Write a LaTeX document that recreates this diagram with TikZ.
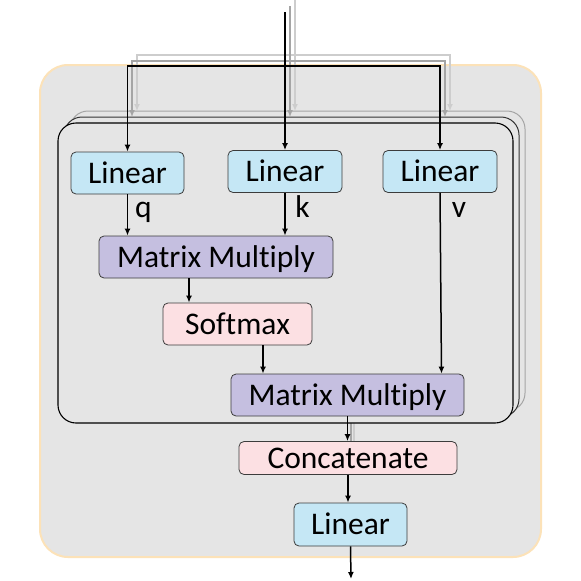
\documentclass[tikz,border=0pt]{standalone}
\usepackage{fontspec}
\setmainfont{Carlito}[Ligatures=CommonOff]
\usetikzlibrary{arrows.meta}
\definecolor{bgGray}{RGB}{229,229,229}
\definecolor{peach}{RGB}{252,226,184}
\definecolor{lblue}{RGB}{197,231,245}
\definecolor{lav}{RGB}{197,191,224}
\definecolor{lpink}{RGB}{252,224,227}
\definecolor{gA}{RGB}{165,165,165}
\definecolor{gB}{RGB}{205,205,205}
\definecolor{edge}{RGB}{60,60,60}
\tikzset{
  box/.style={draw=edge, line width=0.8pt, rounded corners=5pt, minimum height=42pt,
    text height=20pt, text depth=0pt, inner sep=0pt, font=\fontsize{31.5}{36}\selectfont},
  arr/.style={-{Latex[length=7pt,width=6pt]}, line width=1.5pt, black},
  garrA/.style={-{Latex[length=7pt,width=6pt]}, line width=1.5pt, gA},
  garrB/.style={-{Latex[length=7pt,width=6pt]}, line width=1.5pt, gB},
  lbl/.style={anchor=base, inner sep=0pt, font=\fontsize{31.5}{36}\selectfont},
  stackbox/.style={rounded corners=18pt, fill=bgGray, minimum width=455pt, minimum height=300pt, inner sep=0pt}
}
\begin{document}
\begin{tikzpicture}[x=1pt,y=-1pt]
\useasboundingbox (0,0) rectangle (581,581);
\fill[white] (0,0) rectangle (581,581);
% outer block
\node[draw=peach, line width=2pt, fill=bgGray, rounded corners=28pt, minimum width=501pt, minimum height=492pt, inner sep=0pt] (outer) at (290.5,311) {};
% stacked heads
\node[stackbox, draw=gA, line width=1pt] (box3) at (297.5,261) {};
\node[stackbox, draw=black!80, line width=1pt] (box2) at (291.5,267) {};
% gray output shadows
\coordinate (o3) at (354,411);
\coordinate (o2) at (351,417);
\coordinate (c3) at (354,442);
\coordinate (c2) at (351,442);
\draw[line width=1.5pt, gB] (o3) -- (c3);
\draw[line width=1.5pt, gA] (o2) -- (c2);
% front head
\node[stackbox, draw=black, line width=1.1pt] (box1) at (285.5,273) {};
% gray input wires
\coordinate (in2) at (295,0);
\coordinate (j2) at (295,55);
\coordinate (t2l) at (137,111);
\coordinate (t2m) at (295,111);
\coordinate (t2r) at (450,111);
\draw[garrB] (in2) -- (t2m);
\draw[garrB] (j2) -| (t2l);
\draw[garrB] (j2) -| (t2r);
\coordinate (in1) at (290,6);
\coordinate (j1) at (290,61);
\coordinate (t1l) at (132,117);
\coordinate (t1m) at (290,117);
\coordinate (t1r) at (445,117);
\draw[garrA] (in1) -- (t1m);
\draw[garrA] (j1) -| (t1l);
\draw[garrA] (j1) -| (t1r);
% nodes
\node[box, fill=lblue, minimum width=113pt] (lin1) at (127.5,173) {Linear};
\node[box, fill=lblue, minimum width=114pt] (lin2) at (285,171.5) {Linear};
\node[box, fill=lblue, minimum width=114pt] (lin3) at (440,171.5) {Linear};
\node[box, fill=lav, minimum width=234pt] (mm1) at (216,257) {Matrix Multiply};
\node[box, fill=lpink, minimum width=149pt] (soft) at (237.5,324) {Softmax};
\node[box, fill=lav, minimum width=233pt] (mm2) at (347.5,395) {Matrix Multiply};
\node[box, fill=lpink, minimum width=218pt, minimum height=33pt] (cat) at (348,458) {Concatenate};
\node[box, fill=lblue, minimum width=113pt, minimum height=43pt] (lin4) at (350.5,524.5) {Linear};
% black input wires
\coordinate (in0) at (285,12);
\coordinate (j0) at (285,66);
\draw[arr] (in0) -- (lin2.north);
\draw[arr] (j0) -| (lin1.north);
\draw[arr] (j0) -| (lin3.north);
% inner connectors
\draw[arr] (lin1.south) -- (lin1.south |- mm1.north);
\draw[arr] (lin2.south) -- (lin2.south |- mm1.north);
\draw[arr] ([xshift=-27pt]mm1.south) -- ([xshift=-27pt]mm1.south |- soft.north);
\draw[arr] ([xshift=25.5pt]soft.south) -- ([xshift=25.5pt]soft.south |- mm2.north);
\draw[arr] (lin3.south) -- ([xshift=1.5pt]lin3.south |- mm2.north);
\draw[arr] (mm2.south) -- (mm2.south |- cat.north);
\draw[arr] (cat.south) -- (cat.south |- lin4.north);
\coordinate (out) at (351,579);
\draw[arr] (lin4.south) -- (out);
% labels
\node[lbl] (lq) at (143.5,217) {q};
\node[lbl] (lk) at (302.5,217) {k};
\node[lbl] (lv) at (459,217) {v};
\end{tikzpicture}
\end{document}
